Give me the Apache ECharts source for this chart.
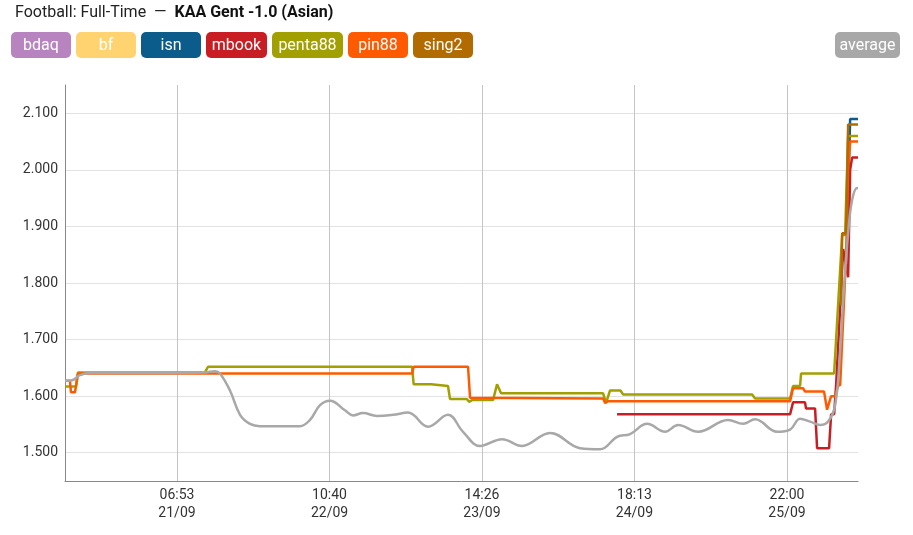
<!DOCTYPE html>
<html><head><meta charset="utf-8">
<script src="https://cdn.jsdelivr.net/npm/echarts@6/dist/echarts.min.js"></script>
<style>html,body{margin:0;padding:0;background:#fff}#c{width:913px;height:535px}</style>
</head><body><div id="c"></div><script>
// times are minutes since 20/09 00:00
const xTickLabels = ['21/09 06:53','22/09 10:40','23/09 14:26','24/09 18:13','25/09 22:00'];
const xStart = '20/09 10:29';
const xEnd = '26/09 10:56';
const yTickValues = [1.5,1.6,1.7,1.8,1.9,2.0,2.1];

const seriesNames = ['bdaq','bf','isn','mbook','penta88','pin88','sing2','average'];
const seriesColors = ['#b784c0','#ffd470','#0b5c8a','#c81d23','#a2a000','#ff5a00','#b26b00','#a8a8a8'];

const bdaq = [];
const bf = [];
const isn = [[9177,1.89],[9210,2.09],[9296,2.09]];
const mbook = [[6663,1.568],[8554,1.568],[8586,1.589],[8717,1.589],[8728,1.578],[8827,1.578],[8849,1.508],[8980,1.508],[9002,1.568],[9035,1.568],[9057,1.620],[9134,1.86],[9188,1.810],[9210,2.00],[9232,2.022],[9296,2.022]];
const penta88 = [[629,1.617],[749,1.617],[771,1.642],[2159,1.642],[2192,1.652],[4422,1.652],[4440,1.621],[4630,1.621],[4651,1.618],[4815,1.618],[4837,1.595],[5020,1.595],[5045,1.590],[5078,1.593],[5307,1.593],[5351,1.621],[5395,1.605],[6510,1.605],[6543,1.588],[6586,1.610],[6700,1.610],[6728,1.603],[8139,1.603],[8171,1.596],[8554,1.596],[8586,1.618],[8663,1.618],[8674,1.640],[9035,1.640],[9123,1.885],[9155,1.885],[9188,2.060],[9296,2.060]];
const pin88 = [[629,1.627],[683,1.627],[694,1.607],[738,1.607],[771,1.640],[4422,1.640],[4440,1.652],[5034,1.652],[5056,1.597],[6510,1.596],[6532,1.588],[6565,1.591],[8554,1.591],[8586,1.614],[8695,1.614],[8717,1.608],[8925,1.608],[8958,1.576],[9002,1.600],[9046,1.600],[9079,1.618],[9101,1.620],[9166,1.85],[9188,2.00],[9210,2.050],[9296,2.050]];
const sing2 = [[9112,1.76],[9123,1.888],[9166,1.888],[9188,2.080],[9296,2.080]];
const average = [[629,1.627],[705,1.628],[793,1.637],[902,1.641],[1558,1.641],[2159,1.642],[2268,1.644],[2323,1.640],[2432,1.610],[2542,1.567],[2651,1.551],[2760,1.547],[3197,1.547],[3307,1.558],[3416,1.584],[3525,1.592],[3689,1.575],[3777,1.566],[3886,1.570],[4039,1.565],[4214,1.567],[4378,1.571],[4597,1.546],[4815,1.567],[4979,1.537],[5165,1.512],[5406,1.524],[5624,1.512],[5930,1.535],[6258,1.508],[6477,1.506],[6663,1.528],[6805,1.533],[6991,1.551],[7188,1.537],[7330,1.549],[7548,1.537],[7876,1.558],[8040,1.551],[8171,1.559],[8412,1.537],[8554,1.541],[8663,1.560],[8772,1.555],[8882,1.549],[8969,1.555],[9046,1.584],[9101,1.680],[9134,1.770],[9188,1.888],[9232,1.947],[9286,1.968],[9296,1.968]];
const seriesData = [bdaq,bf,isn,mbook,penta88,pin88,sing2,average];

function toMin(s){const p=s.split(' ');const d=+p[0].split('/')[0];const t=p[1].split(':');return (d-20)*1440+(+t[0])*60+(+t[1]);}
function pad(n){return (n<10?'0':'')+n;}
function fmtX(v){const d=Math.floor(v/1440);const r=v-d*1440;return pad(Math.floor(r/60))+':'+pad(Math.round(r%60))+'\n'+pad(20+d)+'/09';}

const boxW = {bdaq:52,bf:52,isn:52,mbook:53,penta88:63,pin88:52,sing2:52,average:57};
const rich = {};
seriesNames.forEach((n,i)=>{rich['k'+i]={backgroundColor:seriesColors[i],color:'#fff',borderRadius:5,padding:[6,4,4,4],width:boxW[n],align:'center',fontSize:16,lineHeight:19,fontFamily:'Roboto'};});
const legendFmt = name => '{k'+seriesNames.indexOf(name)+'|'+name+'}';

const chart = echarts.init(document.getElementById('c'), null, {renderer:'canvas'});
chart.setOption({
  animation:false,
  backgroundColor:'#fff',
  title:{left:10,top:0,text:'{a|Football: Full-Time}  —  {b|KAA Gent -1.0 (Asian)}',
    textStyle:{rich:{a:{fontSize:16,fontFamily:'Roboto',fontWeight:'normal',color:'#222'},b:{fontSize:16,fontFamily:'Roboto',fontWeight:'bold',color:'#111'}},fontSize:16,fontWeight:'normal',color:'#222',fontFamily:'Roboto'}},
  legend:[
    {left:6,top:32,padding:0,itemGap:0,itemWidth:0,itemHeight:0,icon:'none',data:seriesNames.slice(0,7),formatter:legendFmt,textStyle:{rich:rich}},
    {left:830,top:32,padding:0,itemGap:0,itemWidth:0,itemHeight:0,icon:'none',data:['average'],formatter:legendFmt,textStyle:{rich:rich}}
  ],
  grid:{left:65,right:55,top:85,bottom:54,containLabel:false},
  xAxis:{type:'value',min:toMin(xStart),max:toMin(xEnd),
    axisLine:{show:true,lineStyle:{color:'#888',width:1}},
    axisTick:{show:false,customValues:xTickLabels.map(toMin)},
    axisLabel:{customValues:xTickLabels.map(toMin),formatter:fmtX,color:'#333',fontSize:14,fontFamily:'Roboto',lineHeight:18,margin:5},
    splitLine:{show:true,lineStyle:{color:'#c4c4c4',width:1}}},
  yAxis:{type:'value',min:1.45,max:2.15,splitNumber:7,
    axisLine:{show:true,lineStyle:{color:'#888',width:1}},
    axisTick:{show:false},
    axisLabel:{color:'#333',fontSize:14,fontFamily:'Roboto',margin:7,showMinLabel:false,showMaxLabel:false,
      formatter:v=>yTickValues.some(t=>Math.abs(t-v)<1e-6)?v.toFixed(3):''},
    splitLine:{show:true,showMinLine:false,showMaxLine:false,lineStyle:{color:'#e2e2e2',width:1}}},
  series:seriesNames.map((n,i)=>({name:n,type:'line',data:seriesData[i],showSymbol:false,symbol:'none',
    smooth:n==='average'?0.4:false,
    color:seriesColors[i],lineStyle:{width:2.5,color:seriesColors[i]},emphasis:{disabled:true}}))
});
</script></body></html>
